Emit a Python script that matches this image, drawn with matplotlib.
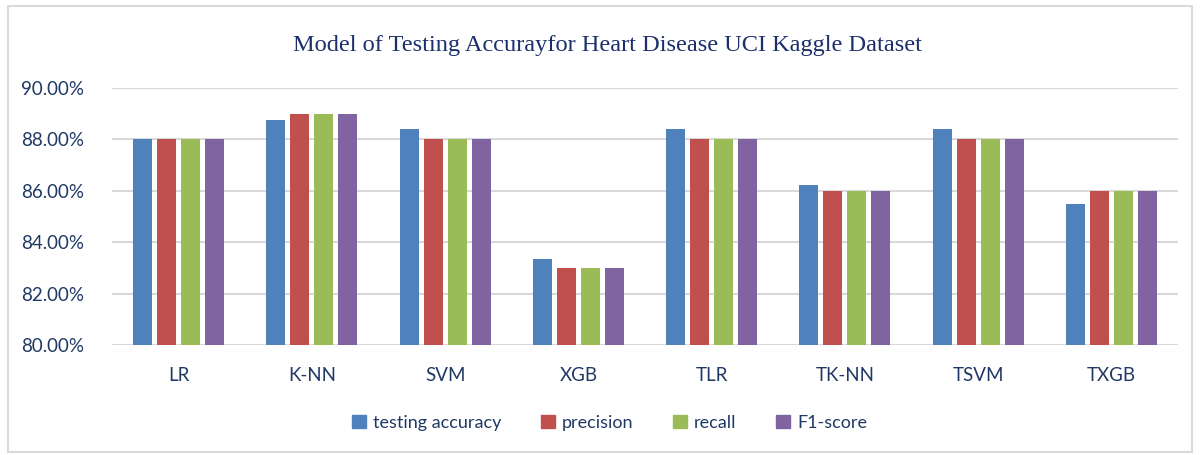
import matplotlib
matplotlib.use("Agg")
import matplotlib.pyplot as plt
from matplotlib.patches import Rectangle
from matplotlib.ticker import FuncFormatter
import numpy as np

categories = ["LR", "K-NN", "SVM", "XGB", "TLR", "TK-NN", "TSVM", "TXGB"]
testing_accuracy = [88.03, 88.76, 88.41, 83.34, 88.41, 86.22, 88.41, 85.50]
precision = [88, 89, 88, 83, 88, 86, 88, 86]
recall = [88, 89, 88, 83, 88, 86, 88, 86]
f1_score = [88, 89, 88, 83, 88, 86, 88, 86]
series_names = ["testing accuracy", "precision", "recall", "F1-score"]
y_ticks = [80, 82, 84, 86, 88, 90]

colors = ["#4F81BD", "#C0504D", "#9BBB59", "#8064A2"]
text_color = "#1F3864"
title_color = "#1B2F6B"
grid_color = "#D9D9D9"

plt.rcParams['font.family'] = ['Lato', 'DejaVu Sans']

fig = plt.figure(figsize=(12, 4.55), dpi=100)
ax = fig.add_axes([112/1200, 1-345/455, (1178-112)/1200, (345-88)/455])

x = np.arange(len(categories))
step = 0.18
width = 0.143
all_series = [testing_accuracy, precision, recall, f1_score]
for i, (vals, name, c) in enumerate(zip(all_series, series_names, colors)):
    ax.bar(x + (i - 1.5) * step, vals, width=width, color=c, label=name, zorder=3)

ax.set_xlim(-0.5, len(categories) - 0.5)
ax.set_ylim(80, 90)
ax.set_yticks(y_ticks)
ax.yaxis.set_major_formatter(FuncFormatter(lambda v, p: f"{v:.2f}%"))
ax.set_xticks(x)
ax.set_xticklabels(categories)
ax.grid(axis='y', color=grid_color, linewidth=1.5, zorder=0)
for s in ax.spines.values():
    s.set_visible(False)
ax.tick_params(axis='both', length=0, labelsize=13.5, colors=text_color)
ax.tick_params(axis='x', pad=16)
ax.tick_params(axis='y', pad=20)

fig.text(0.506, 1-45/455, "Model of Testing Accurayfor Heart Disease UCI Kaggle Dataset",
         ha='center', va='center', fontsize=17.6, color=title_color,
         family=['Liberation Serif', 'DejaVu Serif'])

handles = [Rectangle((0, 0), 1, 1, color=c) for c in colors]
leg = fig.legend(handles, series_names, loc='center', bbox_to_anchor=(0.508, 1-423/455),
                 ncol=4, frameon=False, fontsize=13, handlelength=0.75, handleheight=0.75,
                 handletextpad=0.4, columnspacing=2.2)
for t in leg.get_texts():
    t.set_color(text_color)

fig.patches.append(Rectangle((8/1200, 3/455), 1184/1200, 446/455, transform=fig.transFigure,
                             fill=False, edgecolor=grid_color, linewidth=1.5))

fig.savefig("out.png", dpi=100, facecolor='white')
